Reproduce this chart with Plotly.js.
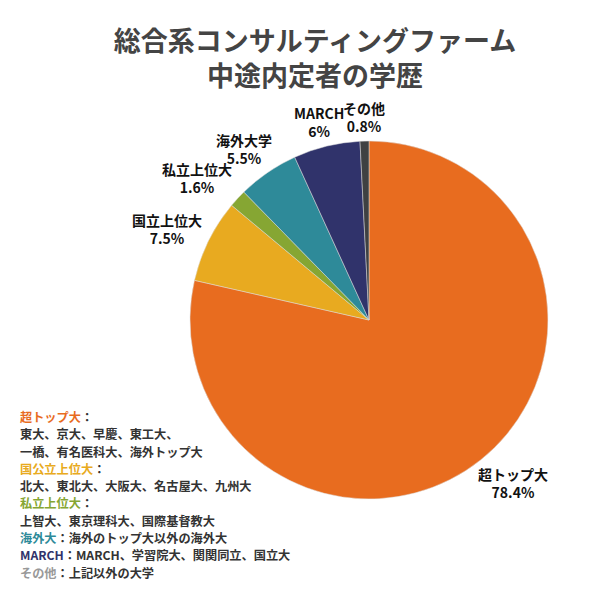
<!DOCTYPE html>
<html>
<head>
<meta charset="utf-8">
<script src="https://cdn.plot.ly/plotly-3.0.1.min.js"></script>
<style>html,body{margin:0;padding:0;background:#fff;}#chart{width:600px;height:600px;}</style>
</head>
<body>
<div id="chart"></div>
<script>
const labels = ['超トップ大', '国立上位大', '私立上位大', '海外大学', 'MARCH', 'その他'];
const values = [78.4, 7.5, 1.6, 5.5, 6, 0.8];
const colors = ['#E86C1F', '#E8AA20', '#86A633', '#2E8A99', '#30336B', '#3F4142'];

const noteHeads = ['超トップ大', '', '', '国公立上位大', '', '私立上位大', '', '海外大', 'MARCH', 'その他'];
const noteHeadColors = ['#E86C1F', '', '', '#E8AA20', '', '#86A633', '', '#2E8A99', '#30336B', '#999999'];
const noteBodies = ['：', '東大、京大、早慶、東工大、', '一橋、有名医科大、海外トップ大', '：',
  '北大、東北大、大阪大、名古屋大、九州大', '：', '上智大、東京理科大、国際基督教大',
  '：海外のトップ大以外の海外大', '：MARCH、学習院大、関関同立、国立大', '：上記以外の大学'];

const font = '"Noto Sans CJK JP", "Noto Sans", sans-serif';
const labelSize = 14;

const W = 600, H = 600;
const dom = {x: [0.3167, 0.9133], y: [0.1683, 0.765]};

const trace = {
  type: 'pie',
  labels: labels,
  values: values,
  sort: false,
  direction: 'clockwise',
  rotation: 0,
  marker: {colors: colors, line: {color: '#dddddd', width: 0.5}},
  textinfo: 'none',
  showlegend: false,
  hoverinfo: 'none',
  domain: dom
};

// measure label text to place it just outside each slice (label box touches the slice's mid-angle ray)
const ctx = document.createElement('canvas').getContext('2d');
ctx.font = 'bold ' + labelSize + 'px ' + font;
const cx = (dom.x[0] + dom.x[1]) / 2, cy = (dom.y[0] + dom.y[1]) / 2;
const rPx = Math.min((dom.x[1] - dom.x[0]) * W, (dom.y[1] - dom.y[0]) * H) / 2;
const gap = 5;
const boxH = labelSize * 2.7;
const total = values.reduce((a, b) => a + b, 0);
let cum = 0;
const annotations = [];
values.forEach((v, i) => {
  const mid = (cum + v / 2) / total * 2 * Math.PI;
  cum += v;
  const vx = Math.sin(mid), vy = Math.cos(mid); // vy points up
  const txt2 = v + '%';
  const boxW = Math.max(ctx.measureText(labels[i]).width, ctx.measureText(txt2).width) + 4;
  const vs = 1 / Math.max(Math.abs(vx), Math.abs(vy));
  const dx = vx * rPx + (boxW / 2) * vx * vs + gap * vx;
  const dy = vy * rPx + (boxH / 2) * vy * vs + gap * vy;
  annotations.push({
    text: '<b>' + labels[i] + '</b><br><b>' + txt2 + '</b>',
    xref: 'paper', yref: 'paper', x: cx + dx / W, y: cy + dy / H,
    xanchor: 'center', yanchor: 'middle', align: 'center', showarrow: false,
    font: {family: font, size: labelSize, color: '#111'}
  });
});

noteBodies.forEach((b, i) => {
  const head = noteHeads[i] ? '<span style="color:' + noteHeadColors[i] + '">' + noteHeads[i] + '</span>' : '';
  annotations.push({
    text: '<b>' + head + b + '</b>',
    xref: 'paper', yref: 'paper', x: 0.03, y: 1 - (417 + i * 17.3) / H,
    xanchor: 'left', yanchor: 'middle', align: 'left', showarrow: false,
    font: {family: font, size: 12.2, color: '#333'}
  });
});

const layout = {
  width: W, height: H,
  margin: {l: 0, r: 0, t: 0, b: 0},
  paper_bgcolor: '#fff',
  font: {family: font},
  title: {
    text: '<b>総合系コンサルティングファーム</b><br><b>中途内定者の学歴</b>',
    font: {family: font, size: 27, color: '#444'},
    x: 0.525, xanchor: 'center', y: 0.915, yanchor: 'top'
  },
  annotations: annotations
};

Plotly.newPlot('chart', [trace], layout, {staticPlot: true});
</script>
</body>
</html>
